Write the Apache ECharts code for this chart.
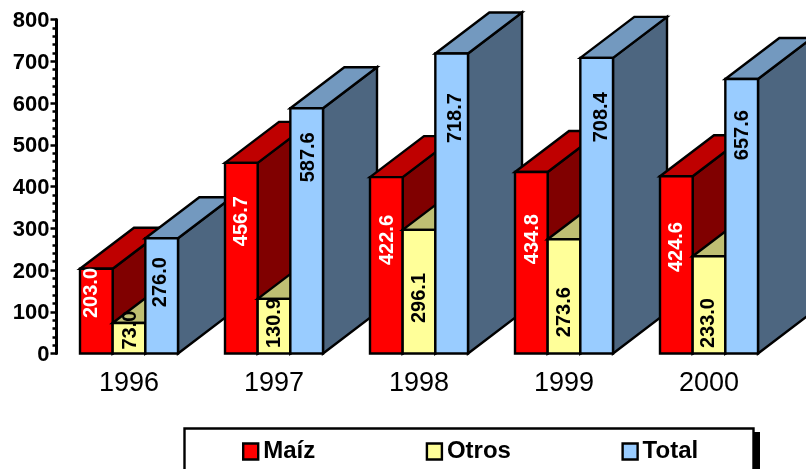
<!DOCTYPE html>
<html><head><meta charset="utf-8">
<style>html,body{margin:0;padding:0;background:#fff;overflow:hidden}#c{width:806px;height:469px}</style>
<script src="https://cdn.jsdelivr.net/npm/echarts@6/dist/echarts.min.js"></script>
</head><body><div id="c"></div>
<script>
const years = ['1996','1997','1998','1999','2000'];
const maiz  = [203.0,456.7,422.6,434.8,424.6];
const otros = [73.0,130.9,296.1,273.6,233.0];
const total = [276.0,587.6,718.7,708.4,657.6];
const seriesNames = ['Maíz','Otros','Total'];
// where each rotated value label sits: height in axis units, sideways nudge in px
const labelMaiz  = [145,317,272,274,255];
const labelOtros = [56,73,133,99,73];
const labelTotal = [171,470,564,566,523];
const nudgeMaiz  = [-5,0,1,1,0];
const nudgeOtros = [1,0,0,0,-1];
const nudgeTotal = [-1,2,4,5,1];

const palette = [
  {front:'#FF0000',top:'#BF0000',side:'#800000',text:'#FFFFFF'},
  {front:'#FFFF99',top:'#BFBF73',side:'#808066',text:'#000000'},
  {front:'#99CCFF',top:'#7399BF',side:'#4D6680',text:'#000000'}
];
const DEPTH_X = 54, DEPTH_Y = 41, STROKE = 2.4, GROUP_SHARE = 98/145;

function makeRender(s, labelAt, nudge){
  return function(params, api){
    const i = api.value(0), v = api.value(1);
    const p0 = api.coord([i,0]), p1 = api.coord([i,v]);
    const band = api.size([1,0])[0];
    const w = band*GROUP_SHARE/3;
    const x0 = p0[0] - band*GROUP_SHARE/2 + s*w, x1 = x0 + w;
    const yb = p0[1], yt = p1[1];
    const base = i*100 + s*10;
    const c = palette[s];
    const st = f => ({fill:f,stroke:'#000',lineWidth:STROKE,lineJoin:'miter'});
    const ly = api.coord([i,labelAt[i]])[1];
    return {type:'group',children:[
      {type:'polygon',z2:base+1,shape:{points:[[x1,yt],[x1+DEPTH_X,yt-DEPTH_Y],[x1+DEPTH_X,yb-DEPTH_Y],[x1,yb]]},style:st(c.side)},
      {type:'polygon',z2:base+2,shape:{points:[[x0,yt],[x0+DEPTH_X,yt-DEPTH_Y],[x1+DEPTH_X,yt-DEPTH_Y],[x1,yt]]},style:st(c.top)},
      {type:'rect',z2:base+3,shape:{x:x0,y:yt,width:w,height:yb-yt},style:st(c.front)},
      {type:'text',z2:i*100+50,x:(x0+x1)/2+nudge[i],y:ly,rotation:Math.PI/2,
        style:{text:v.toFixed(1),fill:c.text,font:'bold 20px "Liberation Sans"',textAlign:'center',textVerticalAlign:'middle'}}
    ]};
  };
}
const columns = [[maiz,labelMaiz,nudgeMaiz],[otros,labelOtros,nudgeOtros],[total,labelTotal,nudgeTotal]];
const chart = echarts.init(document.getElementById('c'),null,{renderer:'canvas'});
chart.setOption({
  animation:false,
  backgroundColor:'#fff',
  grid:{left:56.5,top:19.6,width:725,height:333.9,containLabel:false},
  xAxis:{type:'category',data:years,
    axisLine:{show:false},axisTick:{show:false},
    axisLabel:{color:'#000',fontFamily:'Liberation Sans',fontSize:27,margin:17,interval:0}},
  yAxis:{type:'value',min:0,max:800,interval:100,
    axisLine:{show:true,lineStyle:{color:'#000',width:3}},
    axisTick:{show:true,length:6,lineStyle:{color:'#000',width:2.5}},
    minorTick:{show:true,splitNumber:5,length:4,lineStyle:{color:'#000',width:2.5}},
    splitLine:{show:false},minorSplitLine:{show:false},
    axisLabel:{color:'#000',fontFamily:'Liberation Sans',fontWeight:'bold',fontSize:22,margin:7,verticalAlign:'top',padding:[-9.5,0,0,0]}},
  graphic:[
    {type:'rect',z:1,silent:true,shape:{x:190,y:432,width:570,height:60},style:{fill:'#000'}},
    {type:'rect',z:2,silent:true,shape:{x:184.5,y:428.5,width:569,height:60},style:{fill:'#fff',stroke:'#000',lineWidth:2.4}}
  ],
  legend:{left:242,top:439.5,orient:'horizontal',z:5,
    padding:0,itemGap:110.5,itemWidth:15,itemHeight:16,icon:'rect',
    textStyle:{color:'#000',fontFamily:'Liberation Sans',fontWeight:'bold',fontSize:24},
    itemStyle:{borderColor:'#000',borderWidth:2.4},
    data:seriesNames},
  series:columns.map((col,s)=>({
    type:'custom',name:seriesNames[s],coordinateSystem:'cartesian2d',
    clip:false,silent:true,
    itemStyle:{color:palette[s].front,borderColor:'#000',borderWidth:2},
    encode:{x:0,y:1},
    data:years.map((y,i)=>[i,col[0][i]]),
    renderItem:makeRender(s,col[1],col[2])
  }))
});
</script></body></html>
